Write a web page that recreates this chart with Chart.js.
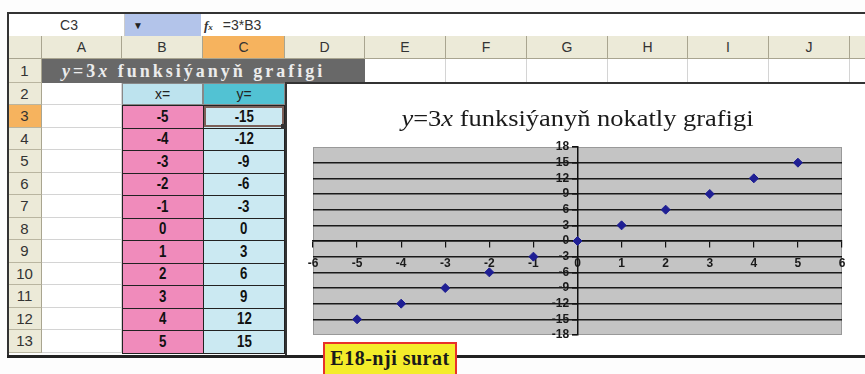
<!DOCTYPE html>
<html>
<head>
<meta charset="utf-8">
<script src="https://cdn.jsdelivr.net/npm/chart.js@4"></script>
<style>
  body { margin: 0; background: #fdfdfd; }
  #sheet { position: relative; width: 865px; height: 374px; overflow: hidden; font-family: Arial, "Liberation Sans", sans-serif; }
  .c { position: absolute; box-sizing: border-box; display: flex; align-items: center; justify-content: center; white-space: nowrap; }
  .num { display: inline-block; transform: scaleX(0.78); font-family: Arial, "Liberation Sans", sans-serif; font-weight: bold; font-size: 17px; color: #111; }
  #chartBox { position: absolute; left: 285px; top: 82px; width: 580px; height: 275px; background: #fff; border-top: 2px solid #333; border-left: 2px solid #333; box-sizing: border-box; }
  #chartBox canvas { position: absolute; left: 0; top: 0; }
</style>
</head>
<body>
<div id="sheet"></div>
<script>
// values from the sheet (columns B and C)
const xValues = [-5, -4, -3, -2, -1, 0, 1, 2, 3, 4, 5];
const yValues = [-15, -12, -9, -6, -3, 0, 3, 6, 9, 12, 15];
const colLetters = ['A', 'B', 'C', 'D', 'E', 'F', 'G', 'H', 'I', 'J'];
// axis ranges of the chart: min, max, step
const xRange = [-6, 6, 1];
const yRange = [-18, 18, 3];

const sheet = document.getElementById('sheet');
function cell(x, y, w, h, css, html) {
  const d = document.createElement('div');
  d.className = 'c';
  d.style.cssText = 'left:' + x + 'px;top:' + y + 'px;width:' + w + 'px;height:' + h + 'px;' + (css || '');
  if (html !== undefined) d.innerHTML = '<span>' + html + '</span>';
  sheet.appendChild(d);
  return d;
}

const colX = [8, 42, 122, 203, 285, 365, 446, 527, 608, 688, 769, 850, 880];
const rowY = [59, 83, 105];
for (let i = 0; i < 11; i++) rowY.push(105 + 22.5 * (i + 1));

// formula bar
cell(8, 14, 117, 22, 'background:#fff;border-right:1px solid #ccc;font-size:14px;color:#333;padding-left:6px;', 'C3');
cell(125, 14, 76, 22, 'background:#b3c4ea;justify-content:flex-start;padding-left:8px;font-size:10px;color:#222;', '&#9660;');
cell(201, 14, 664, 22, 'background:#fff;justify-content:flex-start;padding-left:3px;font-size:14px;color:#333;', '<i style="font-family:Liberation Serif;font-weight:bold;font-size:13px;margin-right:10px">f<span style="font-size:9px">x</span></i>=3*B3');

// column headers
cell(8, 36, 34, 23, 'background:#ecead8;border-right:1px solid #a9a590;border-bottom:1px solid #a9a590;');
for (let i = 0; i < 11; i++) {
  const bg = i === 2 ? '#f6b35e' : '#ecead8';
  cell(colX[i + 1], 36, colX[i + 2] - colX[i + 1], 23, 'background:' + bg + ';border-right:1px solid #a9a590;border-bottom:1px solid #a9a590;font-size:14px;color:#333;', colLetters[i] || '');
}

// row headers
for (let r = 0; r < 13; r++) {
  const y = rowY[r], h = rowY[r + 1] - rowY[r];
  const bg = r === 2 ? '#f6b35e' : '#ecead8';
  cell(8, y, 34, h, 'background:' + bg + ';border-right:1px solid #a9a590;border-bottom:1px solid #b9b5a0;font-size:15px;color:#333;', String(r + 1));
}

// plain cells of column A and row 1 (E..J)
for (let r = 1; r < 13; r++) {
  cell(42, rowY[r], 80, rowY[r + 1] - rowY[r], 'background:#fff;border-right:1px solid #d4d4d4;border-bottom:1px solid #d4d4d4;');
}
for (let i = 4; i < 11; i++) {
  cell(colX[i + 1], 59, colX[i + 2] - colX[i + 1], 24, 'background:#fff;border-right:1px solid #d4d4d4;');
}
// merged title cell A1:D1
cell(42, 59, 323, 24, 'background:#686868;justify-content:flex-start;padding-left:20px;font-family:"Liberation Serif",serif;font-weight:bold;font-size:18px;letter-spacing:3px;color:#ececec;', '<i>y</i>=3<i>x</i> funksiýanyň grafigi');

// header cells B2, C2
cell(122, 83, 81, 22, 'background:#bde3ee;border:1px solid #888;font-size:14px;color:#222;', 'x=');
cell(203, 83, 82, 22, 'background:#52c2d3;border:1px solid #888;font-size:14px;color:#222;', 'y=');

// data cells
xValues.forEach((v, i) => {
  const y = rowY[i + 2], h = rowY[i + 3] - rowY[i + 2];
  cell(122, y, 82, h + 1, 'background:#f08bbb;border:1.5px solid #222;', '<span class="num">' + v + '</span>');
  cell(203, y, 82, h + 1, 'background:#cbe9f2;border:1.5px solid #222;', '<span class="num">' + yValues[i] + '</span>');
});
// selected cell C3
cell(204, 106, 80, 21, 'border:2px solid #7c5f58;');
cell(281, 124, 5, 5, 'background:#333;');

// frame lines
cell(8, 12, 857, 2, 'background:#333;');
cell(7, 12, 2, 346, 'background:#333;');

// chart region
const box = document.createElement('div');
box.id = 'chartBox';
box.innerHTML = '<canvas id="chart" width="578" height="273"></canvas>';
sheet.appendChild(box);

cell(7, 355, 858, 3, 'background:#222;z-index:2;');
cell(323, 342, 134, 36, 'background:#f4ec2a;border:2px solid #e8322a;z-index:3;align-items:flex-start;padding-top:3px;font-family:"Liberation Serif",serif;font-weight:bold;font-size:20px;letter-spacing:0.5px;color:#1a1a1a;', 'E18-nji surat');

// gray plot background
const plotBg = {
  id: 'plotBg',
  beforeDraw(chart) {
    const a = chart.chartArea, ctx = chart.ctx;
    ctx.save();
    ctx.fillStyle = '#c4c4c4';
    ctx.fillRect(a.left, a.top, a.right - a.left, a.bottom - a.top);
    ctx.strokeStyle = '#999';
    ctx.lineWidth = 1;
    ctx.strokeRect(a.left + 0.5, a.top + 0.5, a.right - a.left - 1, a.bottom - a.top - 1);
    ctx.restore();
  }
};

// title with italic y and x
const mixedTitle = {
  id: 'mixedTitle',
  afterDraw(chart) {
    const a = chart.chartArea, ctx = chart.ctx;
    const parts = [['y', true], ['=3', false], ['x', true], [' funksiýanyň nokatly grafigi', false]];
    const fontOf = it => (it ? 'italic ' : '') + '23px "Liberation Serif", serif';
    let w = 0;
    parts.forEach(p => { ctx.font = fontOf(p[1]); w += ctx.measureText(p[0]).width; });
    const sx = 1.15;
    ctx.save();
    ctx.fillStyle = '#1a1a1a';
    ctx.textBaseline = 'alphabetic';
    ctx.translate((a.left + a.right) / 2 - w * sx / 2, a.top - 21);
    ctx.scale(sx, 1);
    let x = 0;
    parts.forEach(p => { ctx.font = fontOf(p[1]); ctx.fillText(p[0], x, 0); x += ctx.measureText(p[0]).width; });
    ctx.restore();
  }
};

const tickFont = { family: 'Arial, "Liberation Sans", sans-serif', size: 12, weight: 'bold' };

new Chart(document.getElementById('chart'), {
  type: 'scatter',
  data: {
    datasets: [{
      data: xValues.map((x, i) => ({ x: x, y: yValues[i] })),
      pointStyle: 'rectRot',
      pointRadius: 4.5,
      backgroundColor: '#1f1f94',
      borderColor: '#1f1f94'
    }]
  },
  options: {
    responsive: false,
    animation: false,
    layout: { padding: { left: 26, right: 23, top: 63, bottom: 22 } },
    plugins: { legend: { display: false }, tooltip: { enabled: false } },
    scales: {
      x: {
        type: 'linear',
        position: { y: 0 },
        min: xRange[0], max: xRange[1],
        afterFit: s => { s.height = 0; },
        ticks: { stepSize: xRange[2], autoSkip: false, maxRotation: 0, color: '#1a1a1a', font: tickFont, padding: 9 },
        grid: { drawOnChartArea: false, drawTicks: true, tickLength: 6, color: '#111', lineWidth: 1.2 },
        border: { color: '#111', width: 1.5 }
      },
      y: {
        type: 'linear',
        position: { x: 0 },
        min: yRange[0], max: yRange[1],
        afterFit: s => { s.width = 0; },
        ticks: {
          stepSize: yRange[2], autoSkip: false, color: '#1a1a1a', font: tickFont,
          callback: v => v + '\u2002\u2009'
        },
        grid: {
          color: c => (c.tick && (c.tick.value === yRange[0] || c.tick.value === yRange[1])) ? 'rgba(0,0,0,0)' : '#1a1a1a',
          lineWidth: 1.6,
          tickLength: 5,
          tickColor: '#111'
        },
        border: { color: '#111', width: 1.5 }
      }
    }
  },
  plugins: [plotBg, mixedTitle]
});
</script>
</body>
</html>
